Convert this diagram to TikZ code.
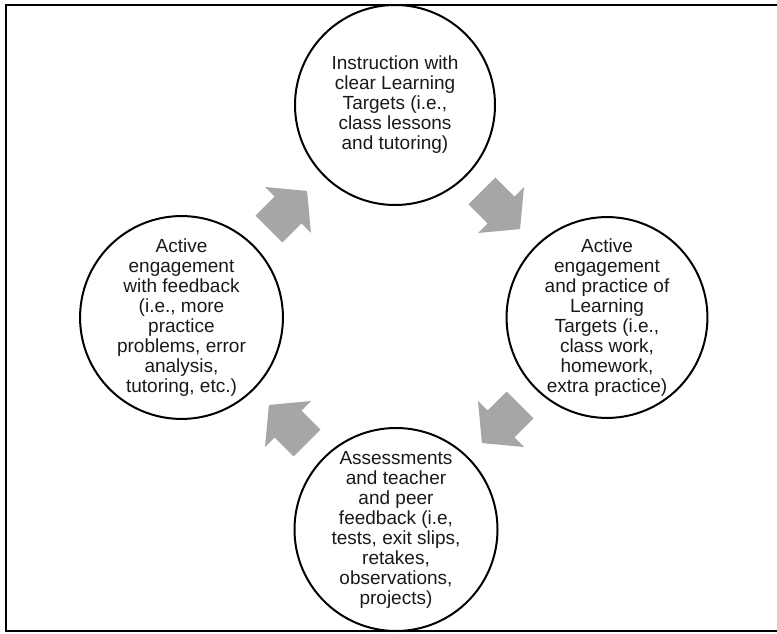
\documentclass[tikz,border=0pt]{standalone}
\usepackage{fontspec}
\setmainfont{Liberation Sans}
\definecolor{arrowgray}{RGB}{166,166,166}
\definecolor{txt}{RGB}{25,25,25}
\tikzset{
  stage/.style={circle, draw=black, line width=2pt, minimum size=200pt, inner sep=0pt,
    align=center, text=txt, font=\fontsize{19}{20}\selectfont},
  pics/blockarrow/.style={code={
    \fill[arrowgray] (-27,-19) -- (0,-19) -- (0,-32.5) -- (27,0) -- (0,32.5) -- (0,19) -- (-27,19) -- cycle;
  }},
  frameline/.style={line width=2pt, draw=black}
}
\begin{document}
\begin{tikzpicture}[x=1pt,y=1pt]
\useasboundingbox (0,0) rectangle (777,633);
\draw[frameline] (777,628) -- (6,628) -- (6,2) -- (777,2);
\node[stage] (top) at (395,528) {Instruction with\\clear Learning\\Targets (i.e.,\\class lessons\\and tutoring)};
\node[stage] (right) at (607,315.5) {Active\\engagement\\and practice of\\Learning\\Targets (i.e.,\\class work,\\homework,\\extra practice)};
\node[stage] (bottom) at (396,103.5) {Assessments\\and teacher\\and peer\\feedback (i.e,\\tests, exit slips,\\retakes,\\observations,\\projects)};
\node[stage] (left) at (181.5,315.5) {Active\\engagement\\with feedback\\(i.e., more\\practice\\problems, error\\analysis,\\tutoring, etc.)};
\pic[rotate=-45] (a1) at (501,423) {blockarrow};
\pic[rotate=-135] (a2) at (501,209) {blockarrow};
\pic[rotate=135] (a3) at (288,209) {blockarrow};
\pic[rotate=45] (a4) at (288,423) {blockarrow};
\end{tikzpicture}
\end{document}
